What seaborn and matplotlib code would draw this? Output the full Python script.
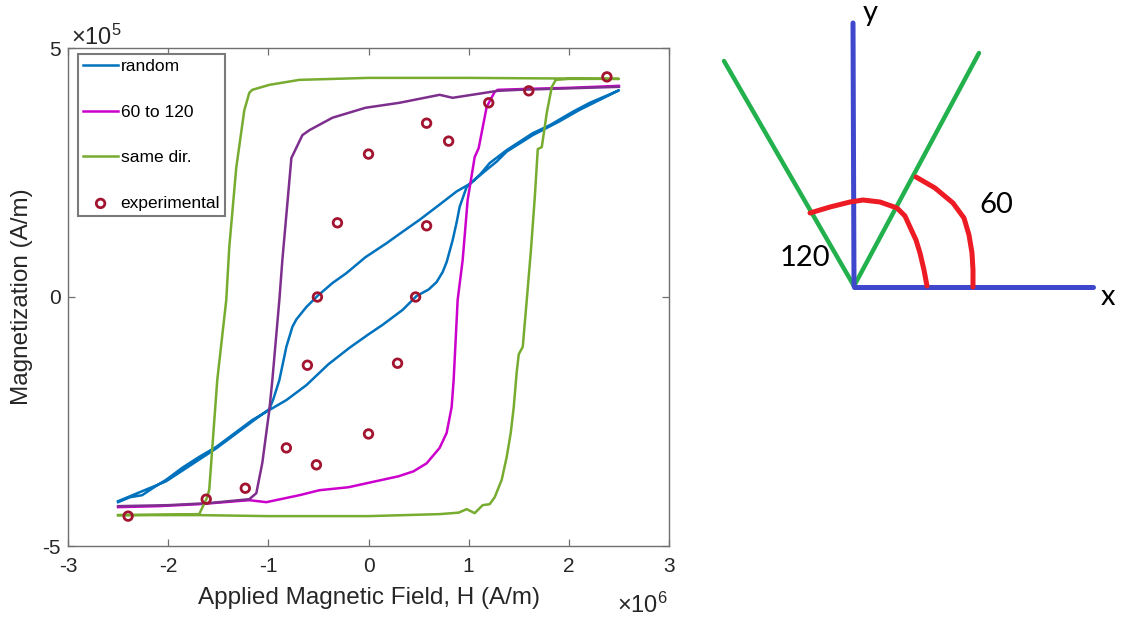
import numpy as np
import pandas as pd
import seaborn as sns
import matplotlib
matplotlib.use('Agg')
import matplotlib.pyplot as plt

# hysteresis loops: H in units of 1e6 A/m, M in units of 1e5 A/m
random_h = [-2.50, -2.38, -2.26, -2.14, -2.02, -1.86, -1.69, -1.52, -1.36, -1.16, -0.99, -0.82, -0.62,
            -0.40, -0.19, 0.00, 0.14, 0.34, 0.48, 0.60, 0.68, 0.74, 0.78, 0.84, 0.88, 0.91, 0.98, 1.11,
            1.21, 1.38, 1.64, 1.81, 2.04, 2.21, 2.35, 2.50,
            2.30, 2.10, 1.90, 1.64, 1.38, 1.28, 1.14, 1.01, 0.88, 0.68, 0.51, 0.34, 0.18, -0.03, -0.22,
            -0.36, -0.51, -0.62, -0.72, -0.76, -0.82, -0.89, -0.95, -0.99, -1.16, -1.52, -2.02, -2.50]
random_m = [-4.12, -4.02, -3.98, -3.82, -3.67, -3.43, -3.21, -3.01, -2.77, -2.47, -2.27, -2.07, -1.77,
            -1.35, -1.02, -0.75, -0.56, -0.26, 0.02, 0.15, 0.30, 0.50, 0.70, 1.14, 1.50, 1.81, 2.21, 2.45,
            2.69, 2.95, 3.29, 3.45, 3.72, 3.90, 4.02, 4.15,
            3.95, 3.75, 3.52, 3.25, 2.92, 2.72, 2.49, 2.27, 2.12, 1.81, 1.55, 1.31, 1.08, 0.80, 0.48,
            0.28, 0.02, -0.20, -0.45, -0.60, -1.00, -1.67, -2.05, -2.25, -2.50, -3.04, -3.70, -4.10]

angle_up_h = [-2.50, -2.10, -1.69, -1.19, -1.02, -0.69, -0.49, -0.20, 0.14, 0.30, 0.45, 0.58, 0.71,
              0.78, 0.83, 0.85, 0.89, 0.94, 0.99, 1.06, 1.10, 1.18, 1.26, 1.29, 1.60, 2.00, 2.50]
angle_up_m = [-4.22, -4.20, -4.16, -4.08, -4.12, -3.98, -3.88, -3.82, -3.67, -3.60, -3.50, -3.34, -3.03,
              -2.73, -2.21, -1.67, -0.06, 0.74, 1.95, 2.81, 2.99, 3.82, 4.12, 4.16, 4.18, 4.20, 4.24]

angle_down_h = [2.50, 2.00, 1.50, 1.29, 0.84, 0.71, 0.31, -0.03, -0.36, -0.59, -0.66, -0.77, -0.86,
                -0.89, -0.96, -0.99, -1.06, -1.12, -1.19, -1.60, -2.00, -2.50]
angle_down_m = [4.22, 4.19, 4.16, 4.14, 4.00, 4.06, 3.90, 3.80, 3.60, 3.35, 3.25, 2.79, 0.74,
                -0.06, -1.67, -2.27, -3.33, -3.94, -4.06, -4.14, -4.18, -4.20]

same_h = [-2.50, -1.69, -1.00, 0.00, 0.71, 0.90, 0.98, 1.06, 1.14, 1.21, 1.26, 1.33, 1.38, 1.42, 1.45,
          1.48, 1.50, 1.54, 1.58, 1.62, 1.66, 1.69, 1.73, 1.78, 1.83, 1.87, 2.00, 2.50,
          1.00, 0.00, -0.69, -0.99, -1.16, -1.19, -1.24, -1.32, -1.39, -1.42, -1.51, -1.59, -1.61,
          -1.69, -2.50]
same_m = [-4.38, -4.38, -4.40, -4.40, -4.36, -4.33, -4.26, -4.34, -4.18, -4.16, -4.02, -3.67, -3.21,
          -2.73, -2.21, -1.50, -1.15, -1.00, -0.06, 0.90, 2.00, 2.97, 3.01, 3.70, 4.22, 4.36, 4.38, 4.38,
          4.40, 4.40, 4.36, 4.26, 4.16, 4.10, 3.75, 2.60, 1.00, -0.06, -1.67, -3.87, -4.02,
          -4.36, -4.38]

exp_h = [-2.40, -1.62, -1.23, -0.82, -0.52, -0.61, 0.00, 0.29, -0.51, 0.47, -0.31, 0.58, 0.00, 0.58,
         0.80, 1.20, 1.60, 2.38]
exp_m = [-4.40, -4.06, -3.84, -3.03, -3.37, -1.37, -2.75, -1.33, 0.00, 0.00, 1.49, 1.43, 2.87, 3.49,
         3.13, 3.90, 4.14, 4.42]

# sketch on the right, drawn in picture pixels
y_axis_line = [(853, 23), (854, 286)]
x_axis_line = [(854, 287), (1093, 287)]
green_lines = [(724, 61), (854, 286), (979, 53)]
arc_60 = [(916, 177), (935, 188), (953, 203), (964, 218), (969, 235), (972, 253), (973, 270), (973, 287)]
arc_120 = [(810, 213), (830, 207), (850, 202), (863, 200), (880, 202), (897, 208), (905, 216),
           (910, 227), (916, 240), (920, 253), (924, 270), (927, 286)]


def draw_loop(ax, h, m, color, label=None):
    df = pd.DataFrame({'H': h, 'M': m})
    sns.lineplot(data=df, x='H', y='M', sort=False, estimator=None, color=color,
                 linewidth=1.8, label=label, legend=False, ax=ax)


def draw_path(ax, pts, color, lw):
    pts = np.array(pts)
    ax.plot(pts[:, 0], pts[:, 1], color=color, linewidth=lw, solid_capstyle='round',
            solid_joinstyle='round')


def main():
    plt.rcParams['font.family'] = ['Liberation Sans', 'DejaVu Sans']
    plt.rcParams['mathtext.fontset'] = 'custom'
    plt.rcParams['mathtext.rm'] = 'Liberation Sans'
    plt.rcParams['mathtext.default'] = 'regular'
    plt.rcParams['axes.unicode_minus'] = False

    fig = plt.figure(figsize=(11.23, 6.21), dpi=100)
    ax = fig.add_axes([68 / 1123, 1 - 546 / 621, 601 / 1123, 498 / 621])

    draw_loop(ax, random_h, random_m, '#0072BD', 'random')
    draw_loop(ax, angle_up_h, angle_up_m, '#CC00CC', '60 to 120')
    draw_loop(ax, angle_down_h, angle_down_m, '#7E2F8E')
    draw_loop(ax, same_h, same_m, '#77AC30', 'same dir.')
    sns.scatterplot(x=exp_h, y=exp_m, marker='o', s=38, facecolor='none', edgecolor='#A2142F',
                    linewidth=2.0, label='experimental', legend=False, ax=ax, zorder=5)

    ax.set_xlim(-3, 3)
    ax.set_ylim(-5, 5)
    ax.set_xticks([-3, -2, -1, 0, 1, 2, 3])
    ax.set_yticks([-5, 0, 5])
    ax.tick_params(direction='in', top=True, right=True, length=5, width=0.9, color='#707070',
                   labelsize=15, labelcolor='#262626')
    ax.tick_params(axis='x', pad=8)
    ax.tick_params(axis='y', pad=5)
    for sp in ax.spines.values():
        sp.set_color('#707070')
        sp.set_linewidth(1.0)
    ax.set_xlabel('Applied Magnetic Field, H (A/m)', fontsize=17.5, color='#262626')
    ax.set_ylabel('Magnetization (A/m)', fontsize=17.5, color='#262626')
    ax.xaxis.set_label_coords(0.5, -0.083)
    ax.yaxis.set_label_coords(-0.058, 0.5)

    fig.text(71 / 1123, 1 - 45 / 621, r'$\times10^{5}$', fontsize=17, color='#262626',
             ha='left', va='baseline')
    fig.text(668 / 1123, 1 - 613 / 621, r'$\times10^{6}$', fontsize=17, color='#262626',
             ha='right', va='baseline')

    handles, labels = ax.get_legend_handles_labels()
    leg = ax.legend(handles, labels, loc='upper left', bbox_to_anchor=(78 / 1123, 1 - 54 / 621),
                    bbox_transform=fig.transFigure, borderaxespad=0, fontsize=12.5,
                    labelspacing=1.75, handlelength=2.0, handletextpad=0.15, borderpad=0.3,
                    fancybox=False, framealpha=1, edgecolor='#7a7a7a')
    leg.get_frame().set_linewidth(1.5)

    # angle sketch
    ax2 = fig.add_axes([700 / 1123, 1 - 320 / 621, 423 / 1123, 320 / 621])
    ax2.set_xlim(700, 1123)
    ax2.set_ylim(320, 0)
    ax2.axis('off')
    draw_path(ax2, green_lines, '#22B14C', 3.2)
    draw_path(ax2, y_axis_line, '#3F48CC', 3.6)
    draw_path(ax2, x_axis_line, '#3F48CC', 3.6)
    draw_path(ax2, arc_60, '#ED1C24', 3.6)
    draw_path(ax2, arc_120, '#ED1C24', 3.6)
    sketch_font = ['Lato', 'DejaVu Sans']
    ax2.text(870, 13, 'y', fontsize=21, family=sketch_font, ha='center', va='center')
    ax2.text(1108, 297, 'x', fontsize=21, family=sketch_font, ha='center', va='center')
    ax2.text(996, 205, '60', fontsize=21, family=sketch_font, ha='center', va='center')
    ax2.text(805, 258, '120', fontsize=21, family=sketch_font, ha='center', va='center')

    fig.savefig('out.png', dpi=100)
    plt.close(fig)


if __name__ == '__main__':
    main()
